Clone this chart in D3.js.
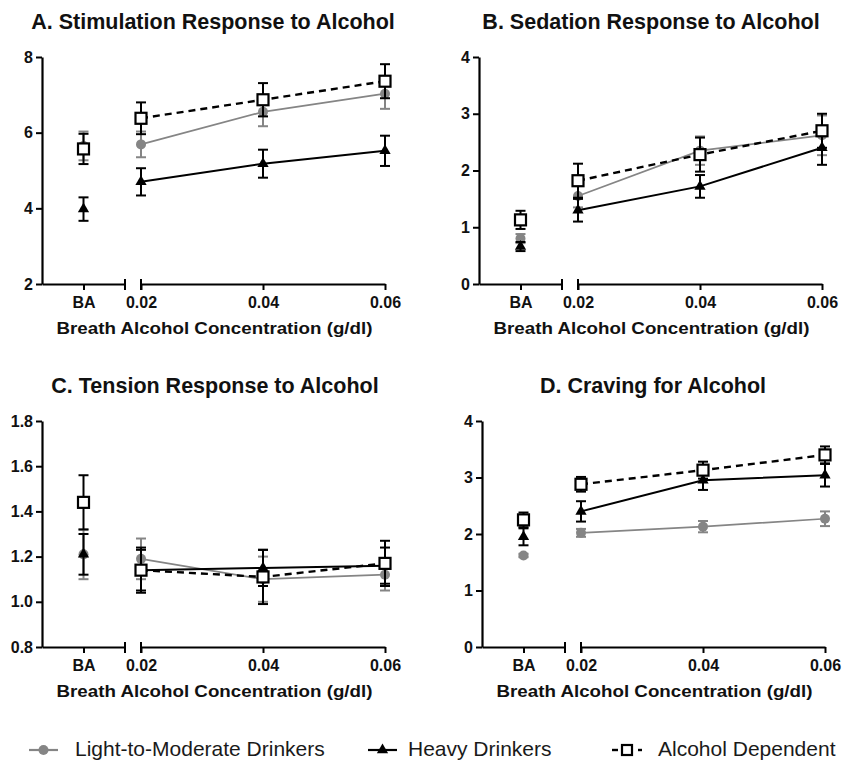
<!DOCTYPE html>
<html>
<head>
<meta charset="utf-8">
<script src="https://cdn.jsdelivr.net/npm/d3@7"></script>
<style>
  body { margin: 0; background: #fff; }
  svg { display: block; font-family: "Liberation Sans", Arial, sans-serif; }
</style>
</head>
<body>
<script>
// x categories: baseline (BA) then breath alcohol concentrations
const categories = ["BA", 0.02, 0.04, 0.06];
const seriesNames = ["Light-to-Moderate Drinkers", "Heavy Drinkers", "Alcohol Dependent"];

// A. stimulation
const stimLight = [5.65, 5.69, 6.55, 7.03];
const stimLightErr = [0.38, 0.34, 0.38, 0.40];
const stimHeavy = [3.98, 4.70, 5.18, 5.52];
const stimHeavyErr = [0.31, 0.36, 0.37, 0.40];
const stimDep = [5.57, 6.38, 6.87, 7.36];
const stimDepErr = [0.40, 0.42, 0.44, 0.45];

// B. sedation
const sedLight = [0.80, 1.55, 2.35, 2.62];
const sedLightErr = [0.08, 0.20, 0.25, 0.35];
const sedHeavy = [0.66, 1.30, 1.72, 2.40];
const sedHeavyErr = [0.08, 0.20, 0.20, 0.30];
const sedDep = [1.13, 1.82, 2.28, 2.70];
const sedDepErr = [0.16, 0.30, 0.30, 0.30];

// C. tension
const tenLight = [1.21, 1.19, 1.10, 1.12];
const tenLightErr = [0.11, 0.09, 0.10, 0.07];
const tenHeavy = [1.21, 1.14, 1.15, 1.16];
const tenHeavyErr = [0.09, 0.09, 0.08, 0.08];
const tenDep = [1.44, 1.14, 1.11, 1.17];
const tenDepErr = [0.12, 0.10, 0.12, 0.10];

// D. craving
const craveLight = [1.62, 2.02, 2.13, 2.27];
const craveLightErr = [0.03, 0.07, 0.10, 0.13];
const craveHeavy = [1.95, 2.40, 2.95, 3.04];
const craveHeavyErr = [0.15, 0.18, 0.17, 0.20];
const craveDep = [2.25, 2.88, 3.13, 3.40];
const craveDepErr = [0.13, 0.13, 0.15, 0.15];

const stimTicks = [2, 4, 6, 8];
const sedTicks = [0, 1, 2, 3, 4];
const tenTicks = [0.8, 1.0, 1.2, 1.4, 1.6, 1.8];
const craveTicks = [0, 1, 2, 3, 4];

const xLabel = "Breath Alcohol Concentration (g/dl)";

let panels = [
  {title: "A. Stimulation Response to Alcohol", ox: 42, top: 57, bottom: 284, titleX: 213, titleY: 29,
    ticks: stimTicks, fmt: d3.format("d"),
    series: [[stimLight, stimLightErr], [stimHeavy, stimHeavyErr], [stimDep, stimDepErr]]},
  {title: "B. Sedation Response to Alcohol", ox: 479, top: 57, bottom: 284, titleX: 651, titleY: 29,
    ticks: sedTicks, fmt: d3.format("d"),
    series: [[sedLight, sedLightErr], [sedHeavy, sedHeavyErr], [sedDep, sedDepErr]]},
  {title: "C. Tension Response to Alcohol", ox: 42, top: 421, bottom: 647, titleX: 215, titleY: 393,
    ticks: tenTicks, fmt: d3.format(".1f"),
    series: [[tenLight, tenLightErr], [tenHeavy, tenHeavyErr], [tenDep, tenDepErr]]},
  {title: "D. Craving for Alcohol", ox: 482, top: 421, bottom: 647, titleX: 653, titleY: 393,
    ticks: craveTicks, fmt: d3.format("d"),
    series: [[craveLight, craveLightErr], [craveHeavy, craveHeavyErr], [craveDep, craveDepErr]]}
];

let styles = [
  {color: "#858585", width: 1.7, dash: null, marker: "circle"},
  {color: "#000", width: 2, dash: null, marker: "triangle"},
  {color: "#000", width: 2.4, dash: "7,5", marker: "square"}
];

let svg = d3.select("body").append("svg")
  .attr("width", 849)
  .attr("height", 762);

function drawMarker(sel, st) {
  if (st.marker == "circle") {
    sel.append("circle").attr("r", 5).attr("fill", st.color);
  } else if (st.marker == "triangle") {
    sel.append("path").attr("d", d3.symbol(d3.symbolTriangle, 55)()).attr("fill", "#000");
  } else {
    sel.append("rect").attr("x", -5.5).attr("y", -5.5).attr("width", 11).attr("height", 11)
      .attr("fill", "#fff").attr("stroke", "#000").attr("stroke-width", 2.2);
  }
}

function drawPanel(p) {
  let g = svg.append("g");

  let y = d3.scaleLinear()
    .domain([p.ticks[0], p.ticks[p.ticks.length - 1]])
    .range([p.bottom, p.top]);
  let xBA = d3.scalePoint().domain(["BA"]).range([p.ox, p.ox + 83]);
  let xConc = d3.scaleLinear().domain([0.02, 0.06]).range([p.ox + 99, p.ox + 343]);
  let xPos = function (c) { return c === "BA" ? xBA(c) : xConc(c); };

  // title
  g.append("text")
    .attr("x", p.titleX).attr("y", p.titleY)
    .attr("text-anchor", "middle")
    .style("font-size", "21.5px").style("font-weight", "bold")
    .attr("fill", "#111")
    .text(p.title);

  // y axis
  let ya = g.append("g")
    .attr("transform", "translate(" + p.ox + ",0)")
    .call(d3.axisLeft(y).tickValues(p.ticks).tickFormat(p.fmt).tickSize(6).tickSizeOuter(0).tickPadding(3));

  // x axis, broken in two pieces
  let xa1 = g.append("g")
    .attr("transform", "translate(0," + p.bottom + ")")
    .call(d3.axisBottom(xBA).tickSize(6).tickSizeOuter(0).tickPadding(7));
  let xa2 = g.append("g")
    .attr("transform", "translate(0," + p.bottom + ")")
    .call(d3.axisBottom(xConc).tickValues([0.02, 0.04, 0.06]).tickFormat(d3.format(".2f"))
      .tickSize(6).tickSizeOuter(0).tickPadding(7));

  [ya, xa1, xa2].forEach(function (a) {
    a.select(".domain").attr("stroke-width", 2.2);
    a.selectAll(".tick line").attr("stroke-width", 2);
    a.selectAll(".tick text")
      .style("font-size", "16px").style("font-weight", "bold")
      .attr("fill", "#111")
      .style("font-family", "Liberation Sans, Arial, sans-serif");
  });

  // break marks
  let breaks = [xBA.range()[1], xConc.range()[0]];
  g.selectAll(".brk")
    .data(breaks)
    .enter().append("line")
    .attr("x1", function (d) { return d; })
    .attr("x2", function (d) { return d; })
    .attr("y1", p.bottom - 5)
    .attr("y2", p.bottom + 6)
    .attr("stroke", "#000").attr("stroke-width", 2);

  g.append("text")
    .attr("x", (p.ox + 13 + p.ox + 330) / 2 + 1)
    .attr("y", p.bottom + 50)
    .attr("text-anchor", "middle")
    .attr("textLength", 316).attr("lengthAdjust", "spacingAndGlyphs")
    .style("font-size", "17px").style("font-weight", "bold")
    .attr("fill", "#111")
    .text(xLabel);

  // series
  p.series.forEach(function (s, i) {
    let st = styles[i];
    let pts = categories.map(function (c, j) {
      return {c: c, v: s[0][j], e: s[1][j]};
    });
    let sg = g.append("g");

    let line = d3.line()
      .x(function (d) { return xPos(d.c); })
      .y(function (d) { return y(d.v); });

    sg.append("path")
      .datum(pts.slice(1))
      .attr("d", line)
      .attr("fill", "none")
      .attr("stroke", st.color)
      .attr("stroke-width", st.width)
      .attr("stroke-dasharray", st.dash);

    let eb = sg.selectAll(".eb")
      .data(pts)
      .enter().append("g")
      .attr("stroke", st.color)
      .attr("stroke-width", 2);
    eb.append("line")
      .attr("x1", function (d) { return xPos(d.c); })
      .attr("x2", function (d) { return xPos(d.c); })
      .attr("y1", function (d) { return y(d.v - d.e); })
      .attr("y2", function (d) { return y(d.v + d.e); });
    [-1, 1].forEach(function (sign) {
      eb.append("line")
        .attr("x1", function (d) { return xPos(d.c) - 5; })
        .attr("x2", function (d) { return xPos(d.c) + 5; })
        .attr("y1", function (d) { return y(d.v + sign * d.e); })
        .attr("y2", function (d) { return y(d.v + sign * d.e); });
    });

    sg.selectAll(".mk")
      .data(pts)
      .enter().append("g")
      .attr("transform", function (d) {
        return "translate(" + xPos(d.c) + "," + y(d.v) + ")";
      })
      .each(function () { drawMarker(d3.select(this), st); });
  });
}

panels.forEach(drawPanel);

// legend
let legendX = [29, 368, 612];
let legendTextX = [75, 408, 658];
let lg = svg.append("g");
seriesNames.forEach(function (name, i) {
  let st = styles[i];
  let x0 = legendX[i], yy = 750;
  let item = lg.append("g");
  if (i < 2) {
    item.append("line")
      .attr("x1", x0).attr("x2", x0 + 29)
      .attr("y1", yy).attr("y2", yy)
      .attr("stroke", st.color).attr("stroke-width", 2.2);
    drawMarker(item.append("g").attr("transform", "translate(" + (x0 + 14.5) + "," + yy + ")"), st);
  } else {
    item.append("line")
      .attr("x1", x0).attr("x2", x0 + 6)
      .attr("y1", yy).attr("y2", yy)
      .attr("stroke", "#000").attr("stroke-width", 2.4);
    item.append("rect")
      .attr("x", x0 + 10).attr("y", yy - 5).attr("width", 10).attr("height", 10)
      .attr("fill", "#fff").attr("stroke", "#000").attr("stroke-width", 2.2);
    item.append("line")
      .attr("x1", x0 + 26).attr("x2", x0 + 30)
      .attr("y1", yy).attr("y2", yy)
      .attr("stroke", "#000").attr("stroke-width", 2.4);
  }
  item.append("text")
    .attr("x", legendTextX[i]).attr("y", yy + 6)
    .style("font-size", "21px")
    .attr("fill", "#1a1a1a")
    .text(name);
});
</script>
</body>
</html>
